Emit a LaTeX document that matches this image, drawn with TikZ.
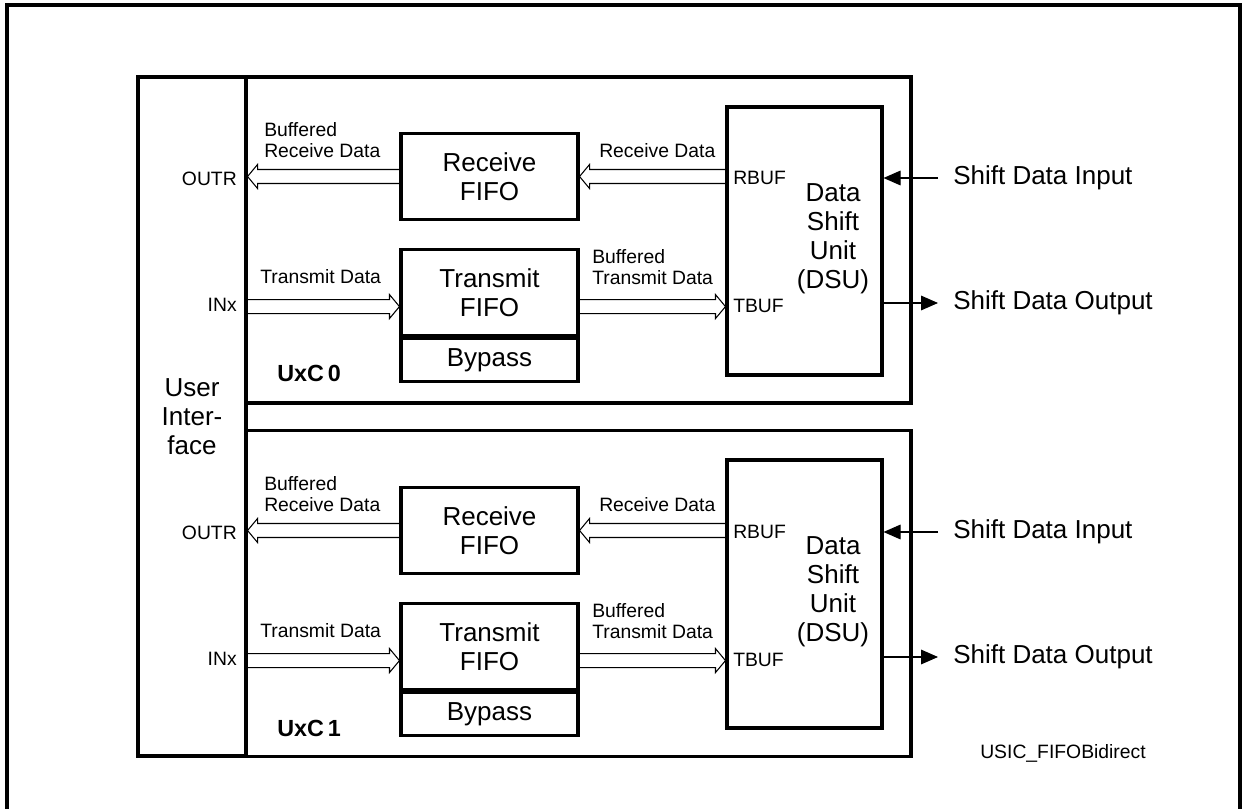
\documentclass[tikz,border=0pt]{standalone}
\usepackage{fontspec}
\setmainfont{Liberation Sans}
\usepackage{tikz}
\usetikzlibrary{arrows.meta, positioning, calc}
\newcommand{\blkfont}{\fontsize{19.5}{21.75}\selectfont}
\newcommand{\sigfont}{\fontsize{14.5}{15.75}\selectfont}
% hollow bus arrow: tail, tip
\newcommand{\busarrow}[2]{%
    \coordinate (hb) at ($(#2)!7.5pt!(#1)$);
    \draw [bus] ($(#1)+(0,7)$) -- ($(hb)+(0,7)$) -- ($(hb)+(0,12)$) -- (#2)
        -- ($(hb)+(0,-12)$) -- ($(hb)+(0,-7)$) -- ($(#1)+(0,-7)$);
}
\tikzset{
    wall/.style={rectangle, draw, line width=2.3pt, inner sep=0pt},
    chan/.style={wall, minimum width=498.75pt, minimum height=244.5pt},
    uibox/.style={wall, minimum width=81pt, minimum height=509.25pt, align=center, font=\blkfont},
    fifo/.style={wall, minimum width=132.75pt, minimum height=64.5pt, align=center, font=\blkfont},
    bypass/.style={wall, minimum width=132.75pt, minimum height=32.25pt, font=\blkfont},
    dsu/.style={wall, minimum width=116.25pt, minimum height=201pt},
    txt/.style={inner sep=0pt, font=\sigfont, align=left},
    bigtxt/.style={inner sep=0pt, font=\blkfont, align=center},
    chantxt/.style={inner sep=0pt, font=\fontsize{17.5}{20}\selectfont\bfseries},
    bus/.style={line width=0.8pt, line join=miter},
    sig/.style={line width=0.8pt, -{Triangle[length=12.75pt, width=11pt]}},
    frame/.style={line width=2.3pt}
}
\begin{document}
\begin{tikzpicture}[x=0.75pt, y=-0.75pt]
    \useasboundingbox (0,0) rectangle (1242,809);
    \draw [frame] (7,809) -- (7,5) -- (1240,5) -- (1240,809);

    \node (ui) [uibox] at (192,416.5) {User\\Inter-\\face};
    \node (chan0) [chan] at (578.5,240) {};
    \node (chan1) [chan] at (578.5,593.5) {};

    % channel 0
    \node (rfifo0) [fifo] at (489.5,176.5) {Receive\\FIFO};
    \node (tfifo0) [fifo, below=20.25pt of rfifo0] {Transmit\\FIFO};
    \node (byp0) [bypass, below=0pt of tfifo0] {Bypass};
    \node (dsu0) [dsu] at (804.5,241) {};
    \node (dsutxt0) [bigtxt] at (833,239) {Data\\Shift\\Unit\\(DSU)};
    \node (rbuf0) [txt, anchor=west] at (733,178) {RBUF};
    \node (tbuf0) [txt, anchor=west] at (733,306) {TBUF};
    \node (outr0) [txt, anchor=east] at (237,179) {OUTR};
    \node (inx0) [txt, anchor=east] at (237,305) {INx};
    \node (brd0) [txt, anchor=west] at (264,140.5) {Buffered\\Receive Data};
    \node (rd0) [txt, anchor=west] at (599,151) {Receive Data};
    \node (td0) [txt, anchor=west] at (260,277) {Transmit Data};
    \node (btd0) [txt, anchor=west] at (592,267.5) {Buffered\\Transmit Data};
    \node (name0) [chantxt, anchor=west] at (277,373) {UxC\,0};
    \node (sdin0) [bigtxt, anchor=west] at (953,178) {Shift Data Input};
    \node (sdout0) [bigtxt, anchor=west] at (953,303) {Shift Data Output};

    \coordinate (rx0) at (dsu0.west |- rfifo0.east);
    \coordinate (urx0) at (ui.east |- rfifo0.west);
    \coordinate (tx0) at ($(tfifo0.west)+(0,14)$);
    \coordinate (utx0) at (ui.east |- tx0);
    \coordinate (btx0) at (tfifo0.east |- tx0);
    \coordinate (dtx0) at (dsu0.west |- tx0);
    \busarrow{rx0}{rfifo0.east}
    \busarrow{rfifo0.west}{urx0}
    \busarrow{utx0}{tx0}
    \busarrow{btx0}{dtx0}
    \coordinate (in0) at (938,178);
    \coordinate (out0) at (938,303);
    \draw [sig] (in0) -- (dsu0.east |- in0);
    \draw [sig] (dsu0.east |- out0) -- (out0);

    % channel 1
    \node (rfifo1) [fifo] at (489.5,530.5) {Receive\\FIFO};
    \node (tfifo1) [fifo, below=20.25pt of rfifo1] {Transmit\\FIFO};
    \node (byp1) [bypass, below=0pt of tfifo1] {Bypass};
    \node (dsu1) [dsu] at (804.5,594) {};
    \node (dsutxt1) [bigtxt] at (833,592) {Data\\Shift\\Unit\\(DSU)};
    \node (rbuf1) [txt, anchor=west] at (733,532) {RBUF};
    \node (tbuf1) [txt, anchor=west] at (733,660) {TBUF};
    \node (outr1) [txt, anchor=east] at (237,533) {OUTR};
    \node (inx1) [txt, anchor=east] at (237,659) {INx};
    \node (brd1) [txt, anchor=west] at (264,494.5) {Buffered\\Receive Data};
    \node (rd1) [txt, anchor=west] at (599,505) {Receive Data};
    \node (td1) [txt, anchor=west] at (260,631) {Transmit Data};
    \node (btd1) [txt, anchor=west] at (592,621.5) {Buffered\\Transmit Data};
    \node (name1) [chantxt, anchor=west] at (277,728) {UxC\,1};
    \node (sdin1) [bigtxt, anchor=west] at (953,532) {Shift Data Input};
    \node (sdout1) [bigtxt, anchor=west] at (953,657) {Shift Data Output};

    \coordinate (rx1) at (dsu1.west |- rfifo1.east);
    \coordinate (urx1) at (ui.east |- rfifo1.west);
    \coordinate (tx1) at ($(tfifo1.west)+(0,14)$);
    \coordinate (utx1) at (ui.east |- tx1);
    \coordinate (btx1) at (tfifo1.east |- tx1);
    \coordinate (dtx1) at (dsu1.west |- tx1);
    \busarrow{rx1}{rfifo1.east}
    \busarrow{rfifo1.west}{urx1}
    \busarrow{utx1}{tx1}
    \busarrow{btx1}{dtx1}
    \coordinate (in1) at (938,532);
    \coordinate (out1) at (938,657);
    \draw [sig] (in1) -- (dsu1.east |- in1);
    \draw [sig] (dsu1.east |- out1) -- (out1);

    \node (fig) [txt, anchor=west] at (980,753) {USIC\_FIFOBidirect};
\end{tikzpicture}
\end{document}
